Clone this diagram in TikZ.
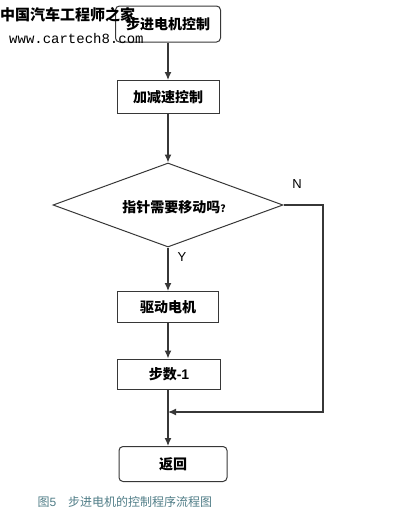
\documentclass[tikz,border=0pt]{standalone}
\usepackage{fontspec}
\setmainfont{Noto Sans CJK SC}
\newfontfamily\wmfont{Liberation Mono}
\newfontfamily\latinfont{Liberation Sans}
\usetikzlibrary{shapes.geometric,arrows.meta}

\definecolor{trait}{RGB}{55,55,55}
\definecolor{legende}{RGB}{80,125,135}

\tikzset{
  boite/.style={draw=trait, line width=1pt, minimum width=102pt, minimum height=32pt,
    font=\fontsize{14}{16}\selectfont\bfseries},
  boiteronde/.style={boite, rounded corners=4pt},
  fleche/.style={-{Latex[length=8pt,width=7pt]}, draw=trait, line width=1.2pt},
}

\begin{document}
\begin{tikzpicture}[x=1pt,y=-1pt]

\useasboundingbox (0,0) rectangle (400,523);

% Blocs
\node[boiteronde, minimum width=105pt, minimum height=36pt] (debut) at (168,24) {步进电机控制};
\node[boite, minimum height=33pt] (accel) at (168,97) {加减速控制};
\node[draw=trait, line width=1pt, diamond, aspect=2.74, inner sep=0pt,
      minimum width=230pt, minimum height=84pt] (test) at (168,205) {};
\node[font=\fontsize{14}{16}\selectfont\bfseries] (question) at (174,207) {指针需要移动吗{\fontsize{10}{12}\selectfont ?}};
\node[boite, minimum width=101pt, minimum height=31pt] (moteur) at (168,307) {驱动电机};
\node[boite, minimum width=103pt, minimum height=30pt] (pas) at (169,374) {步数{\latinfont -1}};
\node[boiteronde, minimum width=108pt, minimum height=35pt] (retour) at (173,464) {返回};

% Etiquettes
\node[font=\latinfont\fontsize{13}{15}\selectfont] (oui) at (182,257) {Y};
\node[font=\latinfont\fontsize{13}{15}\selectfont] (non) at (297,184) {N};

% Liaisons
\coordinate (coinhaut) at (323,205);
\coordinate (coinbas) at (323,412);
\coordinate (jonction) at (168,412);

\draw[fleche] (debut) -- (accel);
\draw[fleche] (accel) -- (test.north);
\draw[fleche] (test.south) -- (moteur);
\draw[fleche] (moteur) -- (moteur |- pas.north);
\draw[fleche] (pas.south -| moteur) -- (moteur |- retour.north);
\draw[fleche] (test.east) -- (coinhaut) -- (coinbas) -- (jonction);

% Legende
\node[anchor=west, text=legende, font=\fontsize{12}{14}\selectfont] (titre) at (34,502) {图{\latinfont 5}\quad 步进电机的控制程序流程图};

% Filigrane
\node[anchor=west, font=\fontsize{15}{17}\selectfont\bfseries, inner sep=0pt] (filigrane) at (0,15) {中国汽车工程师之家};
\node[anchor=west, font=\wmfont\fontsize{14}{16}\selectfont, inner sep=0pt] (site) at (9,38) {www.cartech8.com};

\end{tikzpicture}
\end{document}
